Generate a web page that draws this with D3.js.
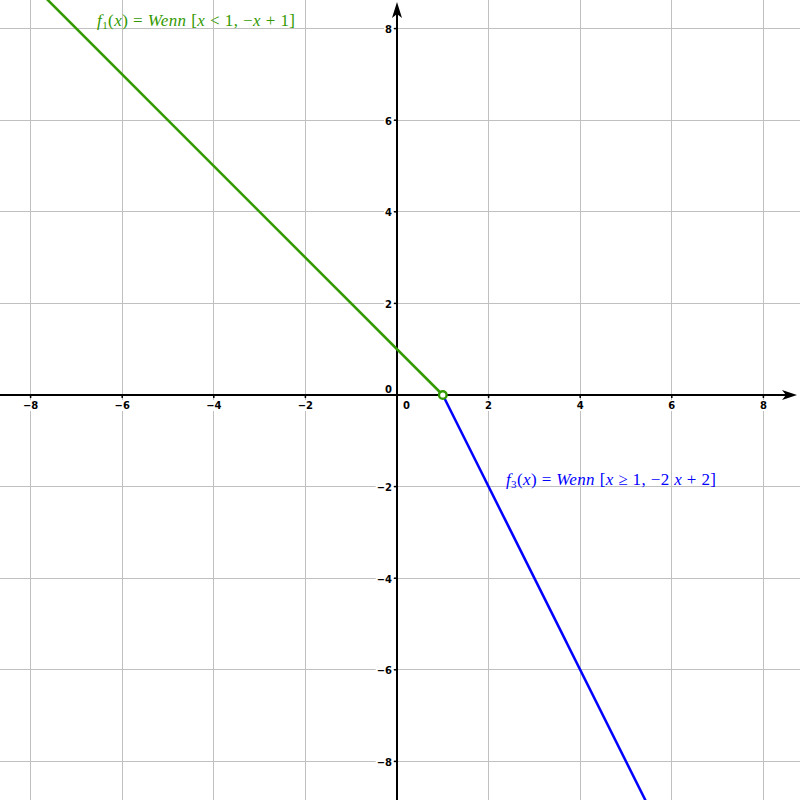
<!DOCTYPE html>
<html><head><meta charset="utf-8">
<script src="https://cdn.jsdelivr.net/npm/d3@7"></script>
<style>body{margin:0;background:#fff}svg{display:block}</style>
</head><body>
<script>
const xTicks = [-8, -6, -4, -2, 0, 2, 4, 6, 8];
const yTicks = [-8, -6, -4, -2, 0, 2, 4, 6, 8];
const f1Points = [{x: -9, y: 10}, {x: 1, y: 0}];
const f3Points = [{x: 1, y: 0}, {x: 6, y: -10}];
const holePoint = [{x: 1, y: 0}];
const f1Color = "#339900";
const f3Color = "#0000ff";

const W = 800, H = 800;
const unit = 45.8, ox = 397, oy = 395;
const x = d3.scaleLinear().domain([-ox / unit, (W - ox) / unit]).range([0, W]);
const y = d3.scaleLinear().domain([-(H - oy) / unit, oy / unit]).range([H, 0]);

const svg = d3.select("body").append("svg").attr("width", W).attr("height", H);
svg.append("defs").append("clipPath").attr("id", "clip")
  .append("rect").attr("x", 0).attr("y", 0).attr("width", W).attr("height", H);

// grid
const grid = svg.append("g").attr("stroke", "#c0c0c0").attr("stroke-width", 1).attr("shape-rendering", "crispEdges");
xTicks.filter(d => d !== 0).forEach(d => {
  grid.append("line").attr("x1", x(d)).attr("x2", x(d)).attr("y1", 0).attr("y2", H);
});
yTicks.filter(d => d !== 0).forEach(d => {
  grid.append("line").attr("y1", y(d)).attr("y2", y(d)).attr("x1", 0).attr("x2", W);
});

// tick labels with white background
const lab = svg.append("g").attr("font-family", "DejaVu Sans, sans-serif").attr("font-weight", "bold").attr("font-size", 10).attr("fill", "#000");
function bgText(g, t) {
  const bb = t.node().getBBox();
  g.insert("rect", () => t.node()).attr("x", bb.x - 1).attr("y", bb.y).attr("width", bb.width + 2).attr("height", bb.height).attr("fill", "#fff");
}
const fmt = d => d < 0 ? "\u2212" + Math.abs(d) : String(d);
xTicks.forEach(d => {
  const t = lab.append("text").text(fmt(d))
    .attr("x", d === 0 ? x(0) + 6 : x(d))
    .attr("y", y(0) + 14)
    .attr("text-anchor", d === 0 ? "start" : "middle");
  bgText(lab, t);
});
yTicks.forEach(d => {
  const t = lab.append("text").text(fmt(d))
    .attr("x", x(0) - 5)
    .attr("y", d === 0 ? y(0) - 2 : y(d) + 4.5)
    .attr("text-anchor", "end");
  bgText(lab, t);
});

// axes
const ax = svg.append("g");
ax.append("line").attr("x1", 0).attr("x2", W - 10).attr("y1", y(0)).attr("y2", y(0)).attr("stroke", "#000").attr("stroke-width", 2);
ax.append("line").attr("x1", x(0)).attr("x2", x(0)).attr("y1", 10).attr("y2", H).attr("stroke", "#000").attr("stroke-width", 2);
ax.append("path").attr("d", `M${W - 3},${y(0)} L${W - 18},${y(0) - 5} L${W - 14},${y(0)} L${W - 18},${y(0) + 5} Z`).attr("fill", "#000");
ax.append("path").attr("d", `M${x(0)},2 L${x(0) - 5},18 L${x(0)},14 L${x(0) + 5},18 Z`).attr("fill", "#000");
xTicks.filter(d => d !== 0).forEach(d => {
  ax.append("line").attr("x1", x(d)).attr("x2", x(d)).attr("y1", y(0)).attr("y2", y(0) + 3).attr("stroke", "#000").attr("stroke-width", 1.5);
});
yTicks.filter(d => d !== 0).forEach(d => {
  ax.append("line").attr("x1", x(0) - 3).attr("x2", x(0)).attr("y1", y(d)).attr("y2", y(d)).attr("stroke", "#000").attr("stroke-width", 1.5);
});

// function lines
const line = d3.line().x(d => x(d.x)).y(d => y(d.y));
const plot = svg.append("g").attr("clip-path", "url(#clip)");
plot.append("path").datum(f1Points).attr("d", line).attr("fill", "none").attr("stroke", f1Color).attr("stroke-width", 2.5);
plot.append("path").datum(f3Points).attr("d", line).attr("fill", "none").attr("stroke", f3Color).attr("stroke-width", 2.5);
plot.selectAll("circle.hole").data(holePoint).join("circle").attr("class", "hole")
  .attr("cx", d => x(d.x)).attr("cy", d => y(d.y)).attr("r", 3.8)
  .attr("fill", "#fff").attr("stroke", f1Color).attr("stroke-width", 2.4);

// math labels
function mathLabel(px, py, color, sub, cond, expr, width) {
  const t = svg.append("text").attr("x", px).attr("y", py).attr("fill", color)
    .attr("font-family", "Liberation Serif, Times New Roman, serif").attr("font-size", 17)
    .attr("textLength", width).attr("lengthAdjust", "spacing");
  const parts = [["f", true], [sub, false, "sub"], ["(", false], ["x", true], [")  =  ", false], ["Wenn", true], [" [", false]]
    .concat(cond).concat([[", ", false]]).concat(expr).concat([["]", false]]);
  parts.forEach(p => {
    const s = t.append("tspan").text(p[0]).attr("font-style", p[1] ? "italic" : "normal");
    if (p[2] === "sub") { s.attr("font-size", 11).attr("dy", 3); }
    else if (p[0] === "(") { s.attr("dy", -3); }
  });
}
mathLabel(97, 26, f1Color, "1", [["x", true], [" < 1", false]], [["\u2212", false], ["x", true], [" + 1", false]], 198);
mathLabel(506, 485, f3Color, "3", [["x", true], [" \u2265 1", false]], [["\u22122 ", false], ["x", true], [" + 2", false]], 210);
</script>
</body></html>
